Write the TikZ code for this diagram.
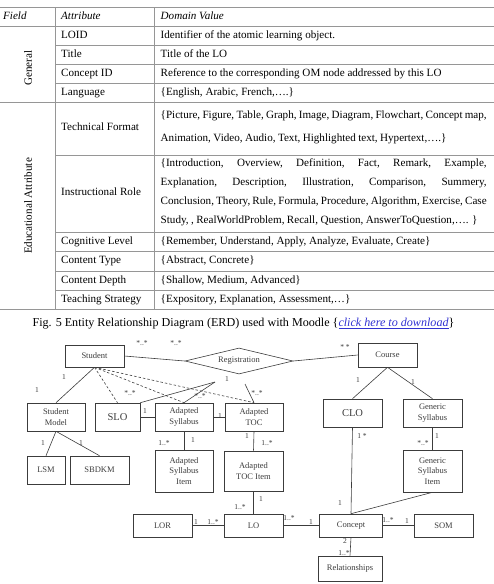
\documentclass[tikz,border=0pt]{standalone}
\usepackage{fontspec}
\setmainfont{Liberation Serif}
\usepackage{tikz}
\usetikzlibrary{shapes.geometric,positioning}
\definecolor{GridGray}{RGB}{150,150,150}
\definecolor{InkGray}{RGB}{60,60,60}
\definecolor{LinkBlue}{RGB}{50,50,210}

\begin{document}
\begin{tikzpicture}[x=1pt,y=-1pt,
  cell/.style={anchor=west,inner sep=0pt,text height=7.5pt,text depth=2.3pt,
    font=\fontsize{11.1}{13}\selectfont},
  head/.style={cell,font=\fontsize{11.1}{13}\selectfont\itshape},
  side/.style={inner sep=0pt,rotate=90,font=\fontsize{11.1}{13}\selectfont},
  para/.style={anchor=west,inner sep=0pt,text width=326pt,align=justify},
  ent/.style={draw=InkGray,line width=0.6pt,inner sep=0pt,align=center,text=InkGray,
    font=\fontsize{8.5}{10.5}\selectfont},
  rel/.style={ent,diamond,aspect=4},
  card/.style={inner sep=0.5pt,text=InkGray,font=\fontsize{7.5}{8}\selectfont},
  link/.style={draw=InkGray,line width=0.6pt},
  assoc/.style={link,dash pattern=on 2.5pt off 2pt}]

\useasboundingbox (0,0) rectangle (494,584);

% table rules
\draw[GridGray,line width=0.7pt] (0,7) -- (494,7) (0,26) -- (494,26)
  (0,102) -- (494,102) (0,309.5) -- (494,309.5);
\draw[GridGray,line width=0.7pt] (55,45.5) -- (494,45.5) (55,64.5) -- (494,64.5)
  (55,83.5) -- (494,83.5) (55,155) -- (494,155) (55,232) -- (494,232)
  (55,251.5) -- (494,251.5) (55,271) -- (494,271) (55,290.5) -- (494,290.5);
\draw[GridGray,line width=0.7pt] (55,7) -- (55,309.5) (154,7) -- (154,309.5);

\node[head] (hfield) at (3,16.5) {Field};
\node[head] (hattr) at (61,16.5) {Attribute};
\node[head] (hdom) at (160.5,16.5) {Domain Value};

\node[side] (general) at (28,68) {General};
\node[side] (educ) at (28,206) {Educational Attribute};

\node[cell] (a1) at (61,35.7) {LOID};
\node[cell] (d1) at (160.5,35.7) {Identifier of the atomic learning object.};
\node[cell] (a2) at (61,55) {Title};
\node[cell] (d2) at (160.5,55) {Title of the LO};
\node[cell] (a3) at (61,74) {Concept ID};
\node[cell] (d3) at (160.5,74) {Reference to the corresponding OM node addressed by this LO};
\node[cell] (a4) at (61,92.7) {Language};
\node[cell] (d4) at (160.5,92.7) {\{English, Arabic, French,….\}};
\node[cell] (a5) at (61,128) {Technical Format};
\node[para,font=\fontsize{11.1}{23}\selectfont] (d5) at (160.5,127.5)
  {\spaceskip=0.22em plus 0.6em minus 0.14em
   \{Picture, Figure, Table, Graph, Image, Diagram, Flowchart, Concept map,\linebreak
   Animation, Video, Audio, Text, Highlighted text, Hypertext,….\}};
\node[cell] (a6) at (61,193) {Instructional Role};
\node[para,font=\fontsize{11.1}{19}\selectfont] (d6) at (160.5,192.5)
  {\spaceskip=0.22em plus 0.8em minus 0.14em
   \{Introduction, Overview, Definition, Fact, Remark, Example,\linebreak
   Explanation, Description, Illustration, Comparison, Summery,\linebreak
   Conclusion, Theory, Rule, Formula, Procedure, Algorithm, Exercise, Case\linebreak
   Study, , RealWorldProblem, Recall, Question, AnswerToQuestion,…. \}};
\node[cell] (a7) at (61,241.7) {Cognitive Level};
\node[cell] (d7) at (160.5,241.7) {\{Remember, Understand, Apply, Analyze, Evaluate, Create\}};
\node[cell] (a8) at (61,261) {Content Type};
\node[cell] (d8) at (160.5,261) {\{Abstract, Concrete\}};
\node[cell] (a9) at (61,280.7) {Content Depth};
\node[cell] (d9) at (160.5,280.7) {\{Shallow, Medium, Advanced\}};
\node[cell] (a10) at (61,300) {Teaching Strategy};
\node[cell] (d10) at (160.5,300) {\{Expository, Explanation, Assessment,…\}};

\node[inner sep=0pt,font=\fontsize{12.1}{14}\selectfont] (cap) at (243.5,324)
  {Fig. 5 Entity Relationship Diagram (ERD) used with Moodle
   \{\textcolor{LinkBlue}{\itshape\underline{click here to download}}\}};

% ERD
\node[ent,minimum width=59pt,minimum height=22pt] (student) at (94.5,356) {Student};
\node[rel,minimum width=108pt,minimum height=26pt] (reg) at (239,361) {Registration};
\node[ent,minimum width=59pt,minimum height=24pt] (course) at (387.5,355) {Course};
\node[ent,minimum width=58pt,minimum height=28pt] (studmodel) at (56,417) {Student\\Model};
\node[ent,minimum width=45pt,minimum height=28pt,font=\fontsize{10.5}{12}\selectfont] (slo) at (117.5,417) {SLO};
\node[ent,minimum width=58pt,minimum height=28pt] (adsyl) at (184,417) {Adapted\\Syllabus};
\node[ent,minimum width=58pt,minimum height=28pt] (adtoc) at (254,417) {Adapted\\TOC};
\node[ent,minimum width=59pt,minimum height=28pt,font=\fontsize{10.5}{12}\selectfont] (clo) at (352.5,413) {CLO};
\node[ent,minimum width=59pt,minimum height=28pt] (gensyl) at (432.5,413) {Generic\\Syllabus};
\node[ent,minimum width=38pt,minimum height=28pt] (lsm) at (46,470) {LSM};
\node[ent,minimum width=59pt,minimum height=28pt] (sbdkm) at (99.5,470) {SBDKM};
\node[ent,minimum width=58pt,minimum height=42pt] (adsylitem) at (184,471) {Adapted\\Syllabus\\Item};
\node[ent,minimum width=59pt,minimum height=40pt] (adtocitem) at (253.5,471) {Adapted\\TOC Item};
\node[ent,minimum width=59pt,minimum height=42pt] (gensylitem) at (432.5,471) {Generic\\Syllabus\\Item};
\node[ent,minimum width=59pt,minimum height=23pt] (lor) at (162.5,525.5) {LOR};
\node[ent,minimum width=59pt,minimum height=23pt] (lo) at (253.5,525.5) {LO};
\node[ent,minimum width=63pt,minimum height=23pt] (concept) at (351,525.5) {Concept};
\node[ent,minimum width=59pt,minimum height=23pt] (som) at (443.5,525.5) {SOM};
\node[ent,minimum width=64pt,minimum height=25pt] (relations) at (350,568.5) {Relationships};

\coordinate (fan) at (215,382);
\coordinate (regfoot) at (245,384);

\draw[link] (student.east) -- (reg.west)
  node[card] at (142,343) {*..*} node[card] at (176,343) {*..*};
\draw[link] (reg.east) -- (course.west) node[card] at (345,347) {* *};
\draw[link] (student.south) -- (studmodel.north)
  node[card] at (64,377) {1} node[card] at (37,390) {1};
\draw[assoc] (student.south) -- (slo.north);
\draw[assoc] (student.south) -- (adsyl.north);
\draw[assoc] (student.south) -- (adtoc.north);
\draw[link] (fan) -- (slo.north east) node[card] at (130,393) {*..*};
\draw[link] (fan) -- (adsyl.north)
  node[card] at (227,379) {1} node[card] at (200,396) {*..*};
\draw[link] (regfoot) -- (adtoc.north) node[card] at (257,393) {*..*};
\draw[link] (slo.east) -- (adsyl.west) node[card] at (145,411) {1};
\draw[link] (adsyl.east) -- (adtoc.west) node[card] at (220,416) {1};
\draw[link] (adsyl.south) -- (adsylitem.north)
  node[card] at (193,440) {1} node[card] at (164,443) {1..*};
\draw[link] (adtoc.south) -- (adtocitem.north)
  node[card] at (247,436) {1} node[card] at (267,443) {1..*};
\draw[link] (adtocitem.south) -- (lo.north)
  node[card] at (261,499) {1} node[card] at (240,507) {1..*};
\draw[link] (studmodel.south) -- (lsm.north) node[card] at (43,443) {1};
\draw[link] (studmodel.south) -- (sbdkm.north) node[card] at (81,443) {1};
\draw[link] (course.south) -- (clo.north) node[card] at (358,380) {1};
\draw[link] (course.south) -- (gensyl.north) node[card] at (413,382) {1};
\draw[link] (clo.south) -- (concept.north)
  node[card] at (362,436) {1 *} node[card] at (340,503) {1};
\draw[link] (gensyl.south) -- (gensylitem.north)
  node[card] at (437,436) {1} node[card] at (423,443) {*..*};
\draw[link] (gensylitem.south) -- (concept.north);
\draw[link] (lor.east) -- (lo.west)
  node[card] at (196,522) {1} node[card] at (213,522) {1..*};
\draw[link] (lo.east) -- (concept.west)
  node[card] at (289,518) {1..*} node[card] at (311,522) {1};
\draw[link] (concept.east) -- (som.west)
  node[card] at (388,520) {1..*} node[card] at (407,521) {1};
\draw[link] (concept.south) -- (relations.north)
  node[card] at (345,541) {2} node[card] at (344,553) {1..*};
\end{tikzpicture}
\end{document}
